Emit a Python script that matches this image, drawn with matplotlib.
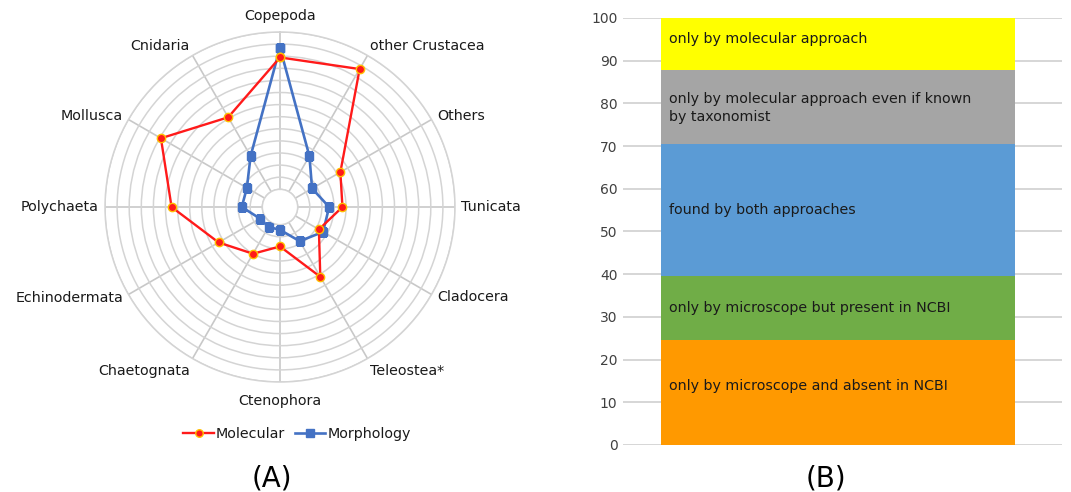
import numpy as np
import matplotlib
matplotlib.use("Agg")
import matplotlib.pyplot as plt

# ---------------- data ----------------
categories = ["Copepoda", "other Crustacea", "Others", "Tunicata", "Cladocera",
              "Teleostea*", "Ctenophora", "Chaetognata", "Echinodermata",
              "Polychaeta", "Mollusca", "Cnidaria"]
molecular = [10.9, 11.7, 4.3, 3.7, 2.25, 5.2, 1.8, 3.0, 4.4, 7.5, 9.9, 7.1]
morphology = [11.7, 3.4, 1.6, 2.6, 2.65, 1.8, 0.43, 0.44, 0.45, 1.7, 1.7, 3.4]
ring_levels = list(range(0, 14))

segment_labels = ["only by microscope and absent in NCBI",
                  "only by microscope but present in NCBI",
                  "found by both approaches",
                  "only by molecular approach even if known\nby taxonomist",
                  "only by molecular approach"]
segment_values = [24.7, 14.9, 31.0, 17.2, 12.2]
segment_colors = ["#FF9900", "#70AD47", "#5B9BD5", "#A5A5A5", "#FFFF00"]
yticks = list(range(0, 101, 10))

# label placement (layout, not data)
label_y = [13.9, 32.2, 55.0, 78.9, 95.0]

# ---------------- figure ----------------
W, H = 1071, 492
plt.rcParams['font.family'] = ['DejaVu Sans']
fig = plt.figure(figsize=(W / 100, H / 100), dpi=100)

# ---- (A) radar ----
cx, cy, R = 280, 207, 175
axA = fig.add_axes([(cx - R) / W, (H - cy - R) / H, 2 * R / W, 2 * R / H], projection='polar')
axA.set_theta_zero_location('N')
axA.set_theta_direction(-1)
n = len(categories)
theta = np.arange(n) * 2 * np.pi / n
th_closed = np.append(theta, theta[0])
axA.set_ylim(0, ring_levels[-1])
axA.set_rorigin(-1.46)
axA.set_rgrids(ring_levels, labels=[])
axA.set_thetagrids(np.degrees(theta), [''] * n)
axA.grid(True, color='#d4d4d4', linewidth=1.1)
axA.xaxis.grid(True, color='#c8c8c8', linewidth=1.2)
for s in axA.spines.values():
    s.set_color('#d4d4d4')
    s.set_linewidth(1.1)

# category labels placed just outside the circle
for t, lab in zip(theta, categories):
    s, c = np.sin(t), np.cos(t)
    pad = 12 if abs(s) < 0.01 else 6
    x = cx + (R + pad) * s
    y = cy - (R + pad) * c
    ha = 'left' if s > 0.01 else ('right' if s < -0.01 else 'center')
    va = 'baseline' if c > 0.6 else ('top' if c < -0.6 else 'center')
    fig.text(x / W, 1 - y / H, lab, ha=ha, va=va, fontsize=10.3, color='#1a1a1a')

axA.plot(th_closed, np.append(molecular, molecular[0]), color='#FF1A1A', lw=1.7,
         marker='o', markersize=6.0, markerfacecolor='#FF1A1A',
         markeredgecolor='#FFC000', markeredgewidth=1.0, label='Molecular', zorder=4)
axA.plot(th_closed, np.append(morphology, morphology[0]), color='#4472C4', lw=1.9,
         marker='s', markersize=5.8, markerfacecolor='#4472C4',
         markeredgecolor='#4472C4', label='Morphology', zorder=3)

leg = axA.legend(loc='center', bbox_to_anchor=(297 / W, 1 - 434 / H),
                 bbox_transform=fig.transFigure, ncol=2, frameon=False,
                 fontsize=10.3, handlelength=2.1, handletextpad=0.15,
                 columnspacing=0.7, markerscale=0.9)
for txt in leg.get_texts():
    txt.set_color('#1a1a1a')

fig.text(272 / W, 1 - 478 / H, "(A)", ha='center', va='center', fontsize=20)

# ---- (B) stacked bar ----
axL, axR, axT, axBt = 623, 1062, 18, 445
axB = fig.add_axes([axL / W, (H - axBt) / H, (axR - axL) / W, (axBt - axT) / H])
bottom = 0
for val, col, lab, ly in zip(segment_values, segment_colors, segment_labels, label_y):
    axB.bar(0.5, val, width=1.0, bottom=bottom, color=col, zorder=2)
    axB.text(0.023, ly, lab, va='center', ha='left',
             fontsize=10.25, color='#1a1a1a', zorder=3, linespacing=1.3)
    bottom += val
axB.set_xlim(-0.1074, 1.1328)
axB.set_ylim(0, 100)
axB.set_yticks(yticks)
axB.set_xticks([])
axB.tick_params(axis='y', length=0, pad=4, labelsize=10, labelcolor='#404040')
axB.grid(axis='y', color='#d0d0d0', linewidth=1.2, zorder=0)
for s in axB.spines.values():
    s.set_visible(False)

fig.text(826 / W, 1 - 478 / H, "(B)", ha='center', va='center', fontsize=20)

fig.savefig("out.png", dpi=100)
